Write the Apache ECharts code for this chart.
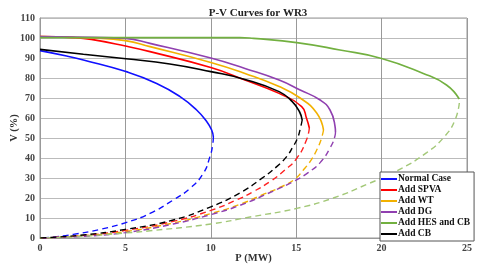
<!DOCTYPE html>
<html><head><meta charset="utf-8">
<script src="https://cdn.jsdelivr.net/npm/echarts@6/dist/echarts.min.js"></script>
<style>html,body{margin:0;padding:0;background:#fff}#c{width:480px;height:271px}</style>
</head><body><div id="c"></div>
<script>
var names = ['Normal Case','Add SPVA','Add WT','Add DG','Add HES and CB','Add CB'];
var colors = ['#1010ff','#ff0000','#f2b100','#9040b0','#72b040','#000000'];
var dashColors = ['#1010ff','#ff2020','#f2b100','#9040b0','#a3c878','#000000'];
var xTicks = [0,5,10,15,20,25];
var yTicks = [0,10,20,30,40,50,60,70,80,90,100,110];

var normalUpper = [[0,93.7],[1.56,91],[2.54,89],[5.03,83.2],[6.83,77.3],[8.2,70.7],[9.17,64],[9.76,58.2],[10.05,54],[10.15,50.5]];
var normalLower = [[10.15,50.5],[10.1,46],[9.95,40.7],[9.56,32.3],[8.78,24.8],[7.8,19],[6.44,12.3],[5.03,7.7],[3.51,4.3],[1.95,1.8],[0.58,0.3],[0,0]];
var spvaUpper = [[0,100.7],[2,100.2],[3,99.3],[5,96],[6.44,93.2],[10,85.2],[12,79],[14,72.3],[15.32,65.7],[15.6,60],[15.77,55]];
var spvaLower = [[15.77,55],[15.6,49],[15.03,39.8],[14.34,34],[13.47,28.2],[12.49,23.2],[11.5,19],[10,13.8],[7.8,8.3],[5,3.8],[2.5,1.2],[0,0]];
var wtUpper = [[0,100.7],[3,100],[5,98.7],[6.44,95.7],[10,87.8],[12,82.3],[14,75.7],[15.23,70],[16.2,62.5],[16.6,54]];
var wtLower = [[16.6,54],[16.45,49],[16.2,44],[15.9,39.3],[15.42,34],[14.9,29.3],[14.1,25.5],[13,21.5],[11.7,16.8],[10,12.2],[7.8,7.5],[5,3.2],[2.5,1],[0,0]];
var dgUpper = [[0,100.7],[3,100.3],[5,99.8],[6.44,97.3],[10,90],[12,84.8],[14,79],[15.23,74],[16.4,69],[16.98,64],[17.27,56],[17.3,53]];
var dgLower = [[17.3,53],[17.27,51],[16.98,45],[16.4,37.7],[15.7,32.7],[14.9,28.5],[13.66,23.5],[11.7,16.3],[10,11.7],[7.8,7],[5,2.7],[2.5,0.8],[0,0]];
var hesUpper = [[0,100.2],[5,100.2],[10,100.2],[11.7,100.2],[12.5,99.8],[15.03,97.7],[17.56,94],[20,89.8],[22.44,82.3],[23.8,76.5],[24.55,69.5]];
var hesLower = [[24.55,67.5],[24.3,59],[23.71,51],[22.64,42.7],[20.88,33.5],[19.13,26.8],[17.17,20],[15.03,14.8],[12.3,10.5],[10,7],[6.44,3.6],[5,2.5],[2,0.6],[0,0]];
var cbUpper = [[0,94.3],[2.54,91.9],[5.03,89.6],[7.6,87],[10,83.2],[12,79.3],[14,73.2],[14.77,68.2],[15.2,63],[15.35,59]];
var cbLower = [[15.35,59],[15.25,55],[15.08,50],[14.8,45.5],[14.44,40.7],[13.86,35.7],[12.98,29.8],[11.7,22.5],[10,15.6],[7.8,9],[5,4.3],[2.5,1.5],[0,0]];

var uppers = [normalUpper,spvaUpper,wtUpper,dgUpper,hesUpper,cbUpper];
var lowers = [normalLower,spvaLower,wtLower,dgLower,hesLower,cbLower];

var font = 'Liberation Serif';
var series = [];
for (var i = 0; i < names.length; i++) {
  series.push({name: names[i], type: 'line', data: uppers[i], smooth: 0.5, symbol: 'none',
    lineStyle: {color: colors[i], width: 1.6}, itemStyle: {color: colors[i]}, z: 3});
  series.push({name: names[i] + ' lower', type: 'line', data: lowers[i], smooth: 0.5, symbol: 'none',
    lineStyle: {color: dashColors[i], width: 1.4, type: [6,4]}, itemStyle: {color: dashColors[i]}, z: 2});
}

var chart = echarts.init(document.getElementById('c'));
chart.setOption({
  animation: false,
  title: {text: 'P-V Curves for WR3', left: 253, top: 3, textAlign: 'center',
    textStyle: {fontFamily: font, fontWeight: 'bold', fontSize: 11, color: '#222'}},
  grid: {left: 40, right: 13, top: 18, bottom: 33, show: true, borderColor: '#999', borderWidth: 1,
    containLabel: false, outerBoundsMode: 'none'},
  legend: {data: names, orient: 'vertical', left: 380, top: 172, width: 88,
    backgroundColor: '#fff', borderColor: '#555', borderWidth: 1, padding: [2, 4, 2, 1],
    itemGap: 1, itemWidth: 16, itemHeight: 2, icon: 'rect',
    textStyle: {fontFamily: font, fontWeight: 'bold', fontSize: 9.5, color: '#111', padding: [0,0,0,-4]}},
  xAxis: {type: 'value', min: 0, max: 25, interval: 5,
    name: 'P (MW)', nameLocation: 'middle', nameGap: 15, nameMoveOverlap: false,
    nameTextStyle: {fontFamily: font, fontWeight: 'bold', fontSize: 10.5, color: '#333'},
    axisLine: {lineStyle: {color: '#999'}}, axisTick: {show: false},
    axisLabel: {fontFamily: font, fontWeight: 'bold', fontSize: 10, color: '#444', margin: 5},
    splitLine: {lineStyle: {color: '#999', width: 1}}},
  yAxis: {type: 'value', min: 0, max: 110, interval: 10,
    name: 'V (%)', nameLocation: 'middle', nameGap: 20, nameMoveOverlap: false,
    nameTextStyle: {fontFamily: font, fontWeight: 'bold', fontSize: 10.5, color: '#333'},
    axisLine: {show: true, lineStyle: {color: '#999'}}, axisTick: {show: false},
    axisLabel: {fontFamily: font, fontWeight: 'bold', fontSize: 10, color: '#444', margin: 5},
    splitLine: {lineStyle: {color: '#bbb', width: 1.2}}},
  series: series
});
</script></body></html>
